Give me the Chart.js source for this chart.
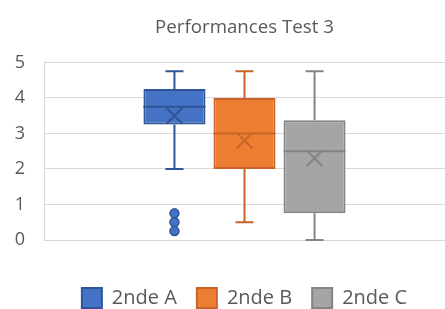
<!DOCTYPE html>
<html>
<head>
<meta charset="utf-8">
<script src="https://cdn.jsdelivr.net/npm/chart.js@4"></script>
<style>
  html, body { margin: 0; padding: 0; background: #fff; overflow: hidden; }
  #wrap { width: 445px; height: 309px; }
</style>
</head>
<body>
<div id="wrap"><canvas id="chart"></canvas></div>
<script>
// box plot summary per class
const seriesNames = ['2nde A', '2nde B', '2nde C'];
const mins = [2, 0.5, 0];
const q1s = [3.25, 2, 0.75];
const medians = [3.75, 3, 2.5];
const q3s = [4.25, 4, 3.375];
const maxs = [4.75, 4.75, 4.75];
const means = [3.5, 2.8, 2.3];
const outliers = [[0.75, 0.5, 0.25], [], []];
const yTicks = [0, 1, 2, 3, 4, 5];

const fills = ['#4472C4', '#ED7D31', '#A5A5A5'];
const lines = ['#2F5597', '#C8642A', '#848484'];
const textColor = '#595959';
const gridColor = '#D9D9D9';
const fontFamily = "'Open Sans', 'Liberation Sans', sans-serif";

// shorter legend box so it sits near the bottom edge
const legendFit = {
    id: 'legendFit',
    beforeInit(chart) {
        const origFit = chart.legend.fit;
        chart.legend.fit = function() {
            origFit.call(this);
            this.height = 41;
        };
    }
};

// whiskers, medians, mean crosses and outliers, placed with the chart scales
const boxExtras = {
    id: 'boxExtras',
    afterDatasetsDraw(chart) {
        const ctx = chart.ctx;
        const yScale = chart.scales.y;
        chart.data.datasets.forEach(function(ds, i) {
            const bar = chart.getDatasetMeta(i).data[0];
            if (!bar) return;
            const x = bar.x;
            const half = bar.width / 2;
            const cap = 9;
            const yMin = yScale.getPixelForValue(mins[i]);
            const yMax = yScale.getPixelForValue(maxs[i]);
            const yQ1 = yScale.getPixelForValue(q1s[i]);
            const yQ3 = yScale.getPixelForValue(q3s[i]);
            const yMed = yScale.getPixelForValue(medians[i]);
            const yMean = yScale.getPixelForValue(means[i]);
            ctx.save();
            ctx.strokeStyle = lines[i];
            ctx.lineWidth = 2;
            ctx.beginPath();
            //whiskers
            ctx.moveTo(x, yQ3); ctx.lineTo(x, yMax);
            ctx.moveTo(x - cap, yMax); ctx.lineTo(x + cap, yMax);
            ctx.moveTo(x, yQ1); ctx.lineTo(x, yMin);
            ctx.moveTo(x - cap, yMin); ctx.lineTo(x + cap, yMin);
            //median
            ctx.moveTo(x - half, yMed); ctx.lineTo(x + half, yMed);
            //mean cross
            ctx.moveTo(x - 8, yMean - 8); ctx.lineTo(x + 8, yMean + 8);
            ctx.moveTo(x + 8, yMean - 8); ctx.lineTo(x - 8, yMean + 8);
            ctx.stroke();
            //outliers
            outliers[i].forEach(function(v) {
                ctx.beginPath();
                ctx.arc(x, yScale.getPixelForValue(v), 4.5, 0, Math.PI * 2);
                ctx.fillStyle = fills[i];
                ctx.fill();
                ctx.lineWidth = 1.5;
                ctx.stroke();
            });
            ctx.restore();
        });
    }
};

const chartData = {
    labels: [''],
    datasets: seriesNames.map(function(name, i) {
        return {
            label: name,
            data: [[q1s[i], q3s[i]]],
            backgroundColor: fills[i],
            borderColor: lines[i],
            borderWidth: 2,
            borderSkipped: false
        };
    })
};

new Chart(document.getElementById('chart'), {
    type: 'bar',
    data: chartData,
    plugins: [legendFit, boxExtras],
    options: {
        responsive: true,
        maintainAspectRatio: false,
        animation: false,
        categoryPercentage: 0.524,
        barPercentage: 0.886,
        layout: { padding: { left: 15, right: 0, top: 0, bottom: 0 } },
        plugins: {
            title: {
                display: true,
                text: 'Performances Test 3',
                fullSize: false,
                color: textColor,
                font: { family: fontFamily, size: 18.7, weight: 'normal' },
                padding: { top: 16, bottom: 24 }
            },
            legend: {
                position: 'bottom',
                fullSize: false,
                labels: {
                    color: textColor,
                    font: { family: fontFamily, size: 20 },
                    boxWidth: 20,
                    boxHeight: 20,
                    padding: 20
                }
            },
            tooltip: { enabled: false }
        },
        scales: {
            x: {
                grid: { display: false },
                ticks: { display: false },
                border: { display: true, color: gridColor },
                afterFit: function(scale) { scale.height = 28; }
            },
            y: {
                min: 0,
                max: 5,
                afterBuildTicks: function(scale) {
                    scale.ticks = yTicks.map(function(v) { return { value: v }; });
                },
                afterFit: function(scale) { scale.width = 29; },
                grid: { color: gridColor, drawTicks: false },
                border: { display: true, color: gridColor },
                ticks: {
                    color: textColor,
                    padding: 19,
                    font: { family: fontFamily, size: 18 }
                }
            }
        }
    }
});
</script>
</body>
</html>
